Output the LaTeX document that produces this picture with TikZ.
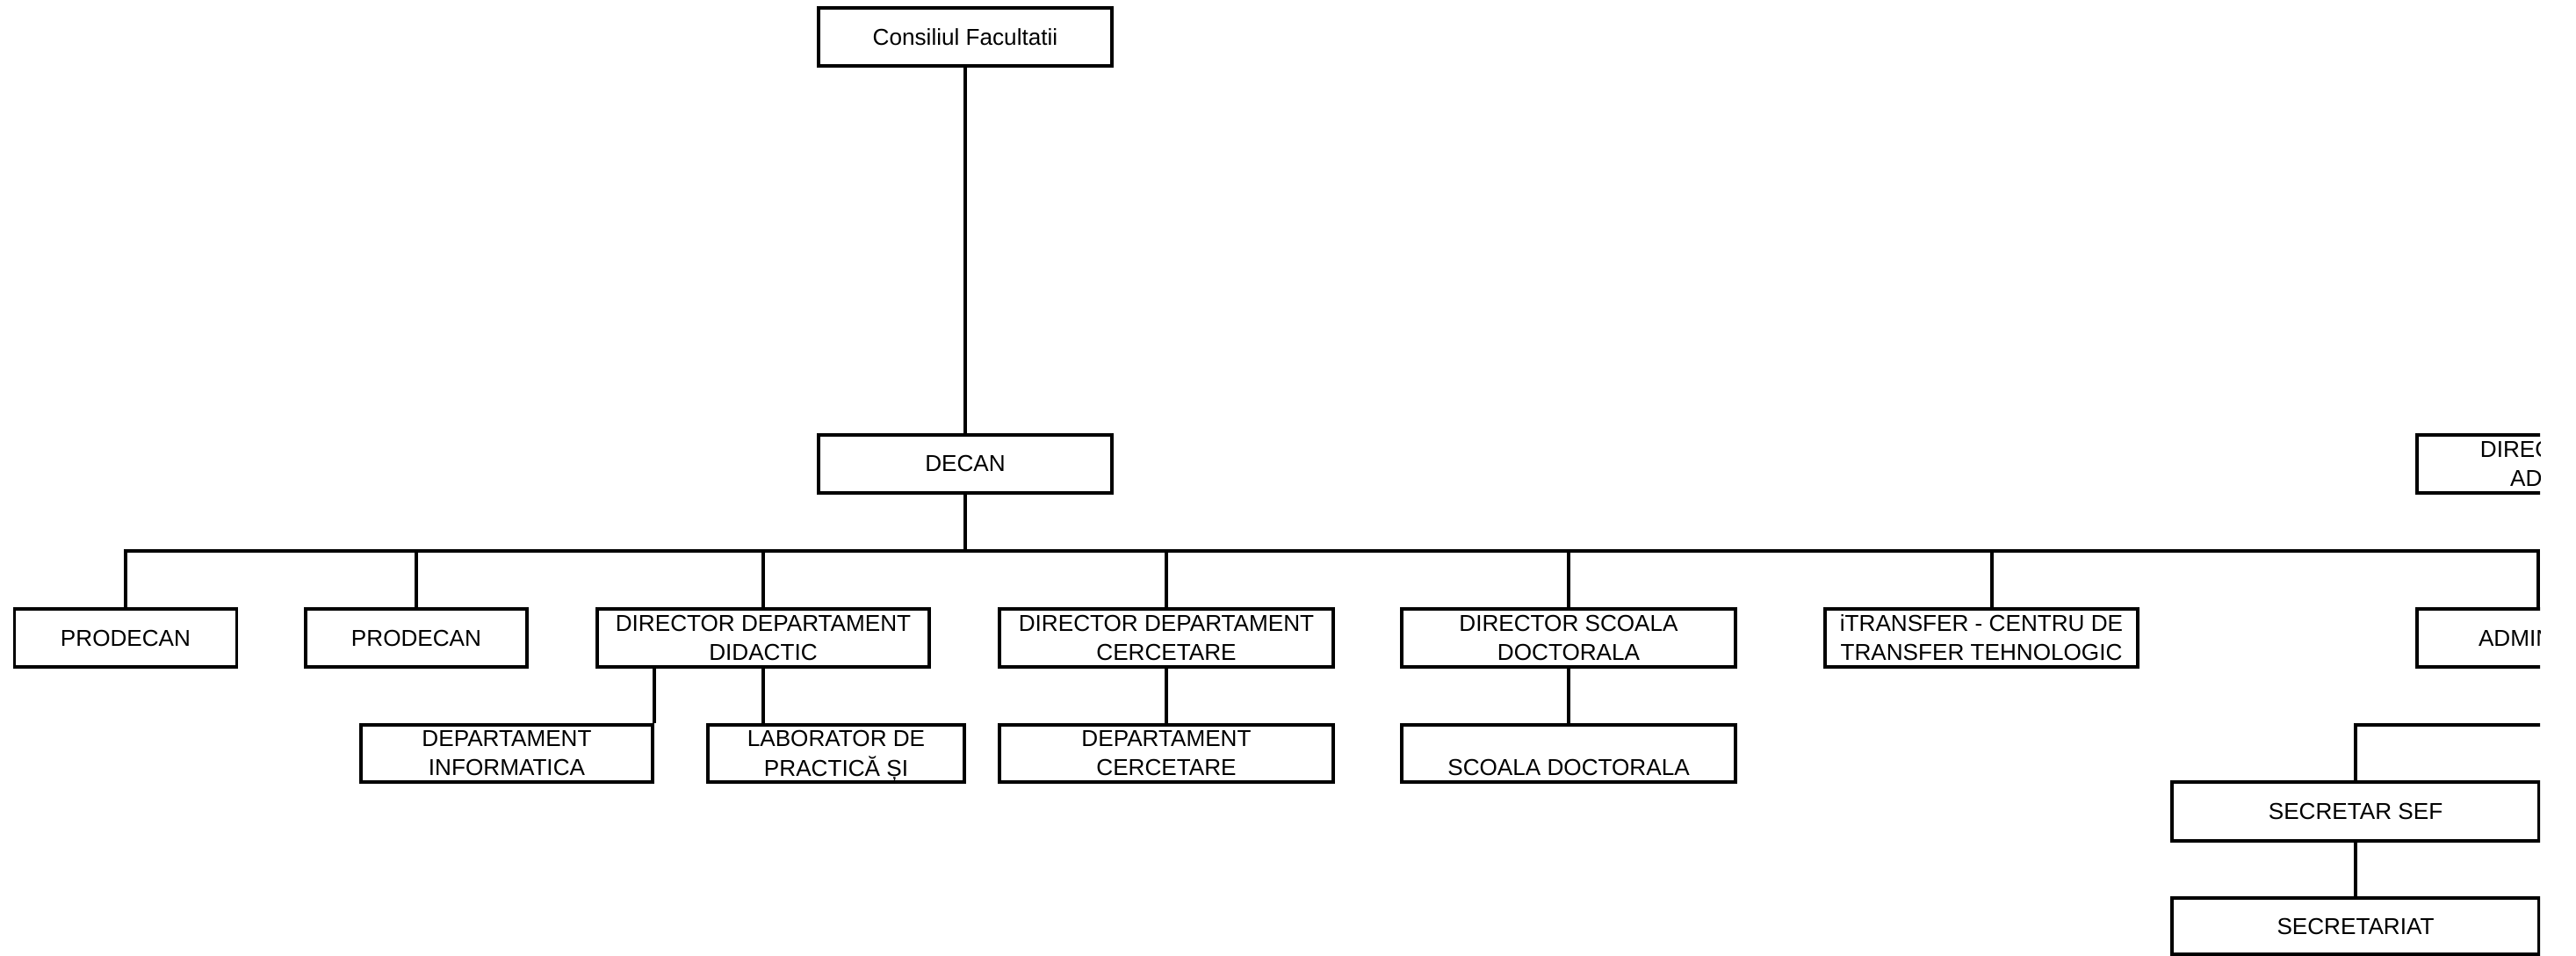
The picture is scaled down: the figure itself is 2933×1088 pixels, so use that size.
\documentclass[tikz,border=0pt]{standalone}
\usepackage{fontspec}
\setmainfont{Liberation Sans}
\begin{document}
\begin{tikzpicture}[x=0.01cm,y=-0.01cm,
  orgbox/.style={draw, line width=1pt, inner sep=0pt, minimum width=#1, minimum height=0.66cm,
    align=center, font=\fontsize{7.43pt}{9.39pt}\selectfont},
  link/.style={line width=1pt}]
\useasboundingbox (0,0) rectangle (2933,1088);
\fill[white] (0,0) rectangle (2933,1088);
\begin{scope}
\clip (0,0) rectangle (2892,1088);
% top levels
\node[orgbox=3.34cm] (cons) at (1099,42) {Consiliul Facultatii};
\node[orgbox=3.34cm] (decan) at (1099,528) {DECAN};
\node[orgbox=4.12cm] (dga) at (2958,528) {DIRECTOR GENERAL\\ADMINISTRATIV};
% second row
\node[orgbox=2.53cm] (pro1) at (143,726) {PRODECAN};
\node[orgbox=2.52cm] (pro2) at (474,726) {PRODECAN};
\node[orgbox=3.78cm] (ddd) at (869,726) {DIRECTOR DEPARTAMENT\\DIDACTIC};
\node[orgbox=3.80cm] (ddc) at (1328,726) {DIRECTOR DEPARTAMENT\\CERCETARE};
\node[orgbox=3.80cm] (dsd) at (1786,726) {DIRECTOR SCOALA\\DOCTORALA};
\node[orgbox=3.56cm] (itr) at (2256,726) {iTRANSFER - CENTRU DE\\TRANSFER TEHNOLOGIC};
\node[orgbox=4.12cm] (adm) at (2958,726) {ADMINISTRATOR SEF};
% third row
\node[orgbox=3.32cm, minimum height=0.65cm] (dinf) at (577,857.5) {DEPARTAMENT\\INFORMATICA};
\node[orgbox=2.92cm, minimum height=0.65cm] (lab) at (952,857.5) {LABORATOR DE\\PRACTICĂ \smash{Ș}I};
\node[orgbox=3.80cm, minimum height=0.65cm] (dcer) at (1328,857.5) {DEPARTAMENT\\CERCETARE};
\node[orgbox=3.80cm, minimum height=0.65cm] (scd) at (1786,857.5) {\vphantom{A}\\SCOALA DOCTORALA};
% secretariat branch
\node[orgbox=4.18cm, minimum height=0.67cm] (ssef) at (2682,923.5) {SECRETAR SEF};
\node[orgbox=4.18cm, minimum height=0.64cm] (secr) at (2682,1054) {SECRETARIAT};
% connectors
\coordinate (busL) at (143,627);
\coordinate (busR) at (2890,627);
\coordinate (itrj) at (2268,627);
\coordinate (admj) at (2958,825);
\draw[link] (cons.south) -- (decan.north);
\draw[link] (decan.south) -- (decan.south |- busL);
\draw[link] (pro1.north) |- (busR) -- (busR |- adm.north);
\foreach \n in {pro2,ddd,ddc,dsd}
  \draw[link] (\n.north) -- (\n.north |- busL);
\draw[link] (itrj) -- (itrj |- itr.north);
\draw[link] (dinf.north east) -- (dinf.north east |- ddd.south);
\draw[link] (ddd.south) -- (ddd.south |- lab.north);
\draw[link] (ddc.south) -- (dcer.north);
\draw[link] (dsd.south) -- (scd.north);
\draw[link] (ssef.north) |- (admj);
\draw[link] (ssef.south) -- (secr.north);
\end{scope}
\end{tikzpicture}
\end{document}
